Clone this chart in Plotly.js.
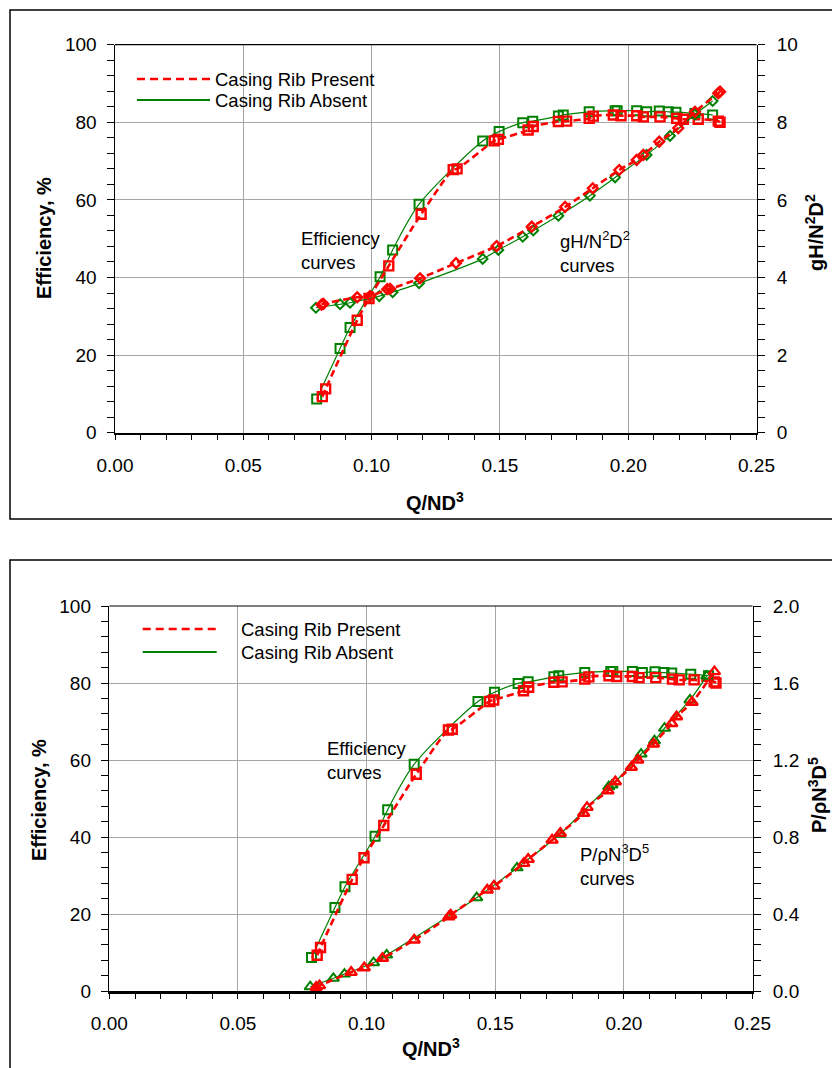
<!DOCTYPE html>
<html>
<head>
<meta charset="utf-8">
<script src="https://cdn.plot.ly/plotly-3.0.1.min.js"></script>
<style>
  html, body { margin: 0; padding: 0; background: #fff; }
  #chart { width: 832px; height: 1068px; }
</style>
</head>
<body>
<div id="chart"></div>
<script>
// ---- Flow coefficient Q/ND^3 and measured performance ----
// Efficiency, % (shared by both panels)
const effPresentQ = [0.0808, 0.0821, 0.0944, 0.0990, 0.1067, 0.1193, 0.1318, 0.1333, 0.1478, 0.1494,
                     0.1610, 0.1630, 0.1728, 0.1760, 0.1848, 0.1864, 0.1942, 0.1972, 0.2033, 0.2059,
                     0.2124, 0.2189, 0.2215, 0.2273, 0.2351, 0.2358];
const effPresent  = [9.3, 11.3, 29.0, 34.6, 43.0, 56.3, 67.8, 68.0, 75.2, 75.6,
                     78.0, 78.9, 80.2, 80.3, 81.0, 81.6, 81.9, 81.7, 81.7, 81.4,
                     81.4, 81.0, 80.8, 80.8, 80.3, 80.0];
const effAbsentQ  = [0.0786, 0.0877, 0.0916, 0.1033, 0.1082, 0.1185, 0.1433, 0.1497, 0.1589, 0.1628,
                     0.1728, 0.1747, 0.1848, 0.1949, 0.1957, 0.2033, 0.2072, 0.2121, 0.2156, 0.2186,
                     0.2260, 0.2329];
const effAbsent   = [8.7, 21.7, 27.1, 40.2, 47.1, 58.9, 75.2, 77.6, 79.9, 80.3,
                     81.6, 81.9, 82.7, 83.0, 83.0, 83.0, 82.7, 82.9, 82.7, 82.6,
                     82.3, 81.9];

// Head coefficient gH/N^2D^2
const headPresentQ = [0.0805, 0.0812, 0.0944, 0.0994, 0.1061, 0.1072, 0.1189, 0.1329, 0.1487, 0.1624,
                      0.1754, 0.1862, 0.1965, 0.2033, 0.2059, 0.2121, 0.2195, 0.2260, 0.2351, 0.2358];
const headPresent  = [3.30, 3.32, 3.49, 3.52, 3.70, 3.71, 3.98, 4.37, 4.81, 5.31,
                      5.82, 6.30, 6.77, 7.03, 7.16, 7.50, 7.85, 8.27, 8.75, 8.79];
const headAbsentQ  = [0.0783, 0.0877, 0.0916, 0.1030, 0.1082, 0.1185, 0.1433, 0.1494, 0.1589, 0.1630,
                      0.1728, 0.1851, 0.1949, 0.2072, 0.2163, 0.2260, 0.2329];
const headAbsent   = [3.22, 3.31, 3.35, 3.52, 3.62, 3.85, 4.48, 4.71, 5.05, 5.21,
                      5.59, 6.11, 6.58, 7.16, 7.65, 8.20, 8.55];

// Power coefficient P/rhoN^3D^5
const powerPresentQ = [0.0804, 0.0817, 0.0940, 0.0991, 0.1062, 0.1185, 0.1320, 0.1327, 0.1469, 0.1495,
                       0.1611, 0.1628, 0.1721, 0.1753, 0.1844, 0.1857, 0.1938, 0.1967, 0.2029, 0.2054,
                       0.2115, 0.2186, 0.2205, 0.2265, 0.2352];
const powerPresent  = [0.019, 0.028, 0.097, 0.121, 0.170, 0.265, 0.386, 0.395, 0.525, 0.545,
                       0.663, 0.684, 0.784, 0.819, 0.923, 0.954, 1.040, 1.087, 1.162, 1.200,
                       1.283, 1.390, 1.425, 1.500, 1.659];
const powerAbsentQ  = [0.0781, 0.0871, 0.0914, 0.1027, 0.1078, 0.1428, 0.1585, 0.1751, 0.1941, 0.1954,
                       0.2067, 0.2119, 0.2158, 0.2257, 0.2322];
const powerAbsent   = [0.022, 0.066, 0.088, 0.147, 0.187, 0.485, 0.640, 0.814, 1.061, 1.070,
                       1.231, 1.300, 1.365, 1.512, 1.636];

const seriesNames = ['Casing Rib Present', 'Casing Rib Absent'];
const xTitle = 'Q/ND<sup>3</sup>';
const effTitle = 'Efficiency, %';
const headTitle = 'gH/N<sup>2</sup>D<sup>2</sup>';
const powerTitle = 'P/ρN<sup>3</sup>D<sup>5</sup>';
const effNote = 'Efficiency<br>curves';
const headNote = 'gH/N<sup>2</sup>D<sup>2</sup><br>curves';
const powerNote = 'P/ρN<sup>3</sup>D<sup>5</sup><br>curves';

// ---- styling ----
const W = 832, H = 1068;
const RED = '#ff0000', GREEN = '#008000';
const FONT = 'Liberation Sans, Arial, Helvetica, sans-serif';
const px = v => v / W;           // pixel -> paper x
const py = v => 1 - v / H;       // pixel -> paper y

function rib(present, x, y, symbol, yaxis, xaxis, size) {
  return {
    type: 'scatter', mode: 'lines+markers', x: x, y: y,
    xaxis: xaxis, yaxis: yaxis, showlegend: false,
    name: present ? seriesNames[0] : seriesNames[1],
    line: present
      ? { color: RED, width: 2.6, dash: '7px,4px', shape: 'spline', smoothing: 0.8 }
      : { color: GREEN, width: 1.2, shape: 'spline', smoothing: 0.8 },
    marker: { symbol: symbol, size: size, color: present ? RED : GREEN,
              line: { color: present ? RED : GREEN, width: present ? 2.4 : 2 } }
  };
}

const traces = [
  // upper panel
  rib(false, effAbsentQ, effAbsent, 'square-open', 'y', 'x', 9),
  rib(false, headAbsentQ, headAbsent, 'diamond-open', 'y3', 'x', 7.5),
  rib(true, effPresentQ, effPresent, 'square-open', 'y', 'x', 9),
  rib(true, headPresentQ, headPresent, 'diamond-open', 'y3', 'x', 7.5),
  // lower panel
  rib(false, effAbsentQ, effAbsent, 'square-open', 'y2', 'x2', 9),
  rib(false, powerAbsentQ, powerAbsent, 'triangle-up-open', 'y4', 'x2', 10),
  rib(true, effPresentQ, effPresent, 'square-open', 'y2', 'x2', 9),
  rib(true, powerPresentQ, powerPresent, 'triangle-up-open', 'y4', 'x2', 10)
];

const tickFont = { family: FONT, size: 19, color: '#000' };

function xAxis(domain, anchor) {
  return {
    domain: domain, anchor: anchor, range: [0, 0.25], dtick: 0.05, tick0: 0,
    tickformat: '.2f', tickfont: tickFont, showgrid: true, gridcolor: '#a6a6a6', gridwidth: 1,
    zeroline: false, showline: true, linecolor: '#000', linewidth: 2.5,
    ticks: 'outside', ticklen: 5, tickwidth: 1, tickcolor: '#000', ticklabelstandoff: 9,
    minor: { dtick: 0.01, ticks: 'outside', ticklen: 5, tickwidth: 1, tickcolor: '#000', showgrid: false },
    fixedrange: true
  };
}
function yLeft(domain, anchor) {
  return {
    domain: domain, anchor: anchor, range: [0, 100], dtick: 20, tick0: 0,
    tickfont: tickFont, showgrid: true, gridcolor: '#a6a6a6', gridwidth: 1,
    zeroline: false, showline: true, linecolor: '#000', linewidth: 1.5,
    ticks: 'outside', ticklen: 7, tickwidth: 1, tickcolor: '#000', ticklabelstandoff: 6,
    minor: { dtick: 4, ticks: 'outside', ticklen: 7, tickwidth: 1, tickcolor: '#000', showgrid: false },
    fixedrange: true
  };
}
function yRight(overlay, anchor, max, dtick, minorDtick, fmt) {
  return {
    overlaying: overlay, anchor: anchor, side: 'right', range: [0, max], dtick: dtick, tick0: 0,
    tickformat: fmt, tickfont: tickFont, showgrid: false, zeroline: false,
    showline: true, linecolor: '#000', linewidth: 1.5,
    ticks: 'outside', ticklen: 7, tickwidth: 1, tickcolor: '#000', ticklabelstandoff: 8,
    minor: { dtick: minorDtick, ticks: 'outside', ticklen: 7, tickwidth: 1, tickcolor: '#000', showgrid: false },
    fixedrange: true
  };
}

// plot-area pixel boxes
const upperBox = { l: 115, r: 756.5, t: 44.7, b: 432.7 };
const lowerBox = { l: 109.3, r: 752.5, t: 606, b: 991 };

const layout = {
  width: W, height: H,
  margin: { l: 0, r: 0, t: 0, b: 0, pad: 0 },
  paper_bgcolor: '#fff', plot_bgcolor: '#fff',
  showlegend: false,
  font: { family: FONT, color: '#000' },
  xaxis: xAxis([px(upperBox.l), px(upperBox.r)], 'y'),
  yaxis: yLeft([py(upperBox.b), py(upperBox.t)], 'x'),
  yaxis3: yRight('y', 'x', 10, 2, 0.4, 'd'),
  xaxis2: xAxis([px(lowerBox.l), px(lowerBox.r)], 'y2'),
  yaxis2: yLeft([py(lowerBox.b), py(lowerBox.t)], 'x2'),
  yaxis4: yRight('y2', 'x2', 2, 0.4, 0.08, '.1f'),
  shapes: [],
  annotations: []
};

// frames around each panel and top border of each plot area
const frame = { type: 'rect', xref: 'paper', yref: 'paper', line: { color: '#000', width: 1.5 }, layer: 'below' };
layout.shapes.push(Object.assign({}, frame, { x0: px(10), x1: px(845), y0: py(10), y1: py(519) }));
layout.shapes.push(Object.assign({}, frame, { x0: px(10), x1: px(845), y0: py(560), y1: py(1085) }));
[['x', 'y'], ['x2', 'y2']].forEach(([xa, ya]) => {
  layout.shapes.push({ type: 'line', xref: xa + ' domain', yref: ya + ' domain',
    x0: 0, x1: 1, y0: 1, y1: 1, line: { color: '#000', width: 1.2 } });
});

// hand-placed legends
function legend(x0, x1, textX, yRed, yGreen) {
  layout.shapes.push({ type: 'line', xref: 'paper', yref: 'paper', x0: px(x0), x1: px(x1),
    y0: py(yRed), y1: py(yRed), line: { color: RED, width: 2.6, dash: '8px,5px' } });
  layout.shapes.push({ type: 'line', xref: 'paper', yref: 'paper', x0: px(x0), x1: px(x1),
    y0: py(yGreen), y1: py(yGreen), line: { color: GREEN, width: 2 } });
  [[seriesNames[0], yRed], [seriesNames[1], yGreen]].forEach(([t, y]) => {
    layout.annotations.push({ xref: 'paper', yref: 'paper', x: px(textX), y: py(y),
      xanchor: 'left', yanchor: 'middle', showarrow: false, text: t,
      font: { family: FONT, size: 18.5, color: '#000' } });
  });
}
legend(137, 210, 213, 79, 100);
legend(142.7, 216.7, 239, 629, 652);

function note(text, x, y) {
  layout.annotations.push({ xref: 'paper', yref: 'paper', x: px(x), y: py(y),
    xanchor: 'left', yanchor: 'middle', align: 'left', showarrow: false, text: text,
    font: { family: FONT, size: 18.5, color: '#000' } });
}
note(effNote, 299, 250);
note(headNote, 558, 252);
note(effNote, 325, 760);
note(powerNote, 577.5, 865);

function title(text, x, y, angle) {
  layout.annotations.push({ xref: 'paper', yref: 'paper', x: px(x), y: py(y),
    xanchor: 'center', yanchor: 'middle', showarrow: false, text: text, textangle: angle,
    font: { family: FONT, size: 20, color: '#000', weight: 'bold' } });
}
title('<b>' + effTitle + '</b>', 44, 238, -90);
title('<b>' + headTitle + '</b>', 814, 233, -90);
title('<b>' + xTitle + '</b>', 435, 501, 0);
title('<b>' + effTitle + '</b>', 39, 800, -90);
title('<b>' + powerTitle + '</b>', 817, 795, -90);
title('<b>' + xTitle + '</b>', 431, 1047, 0);

Plotly.newPlot('chart', traces, layout, { staticPlot: true, displayModeBar: false });
</script>
</body>
</html>
